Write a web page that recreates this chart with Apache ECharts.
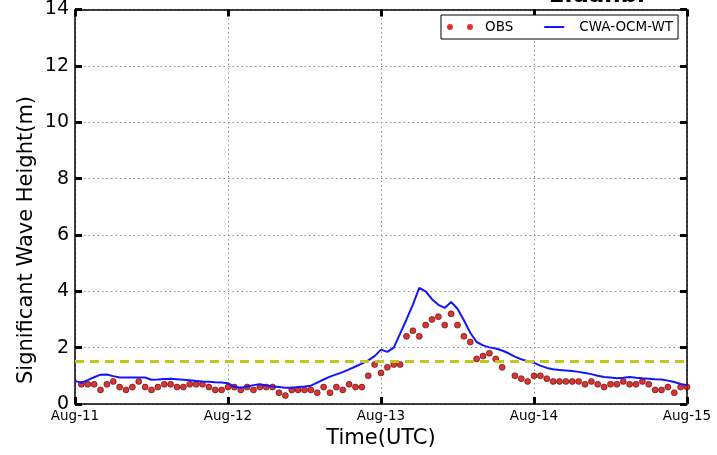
<!DOCTYPE html>
<html>
<head>
<meta charset="utf-8">
<script src="https://cdn.jsdelivr.net/npm/echarts@6/dist/echarts.min.js"></script>
<style>
  html, body { margin: 0; padding: 0; background: #fff; }
  #chart { width: 717px; height: 455px; }
</style>
</head>
<body>
<div id="chart"></div>
<script>
// Day tick labels (one tick every 24 hours)
const dayLabels = ['Aug-11', 'Aug-12', 'Aug-13', 'Aug-14', 'Aug-15'];

// Observed significant wave height (m), hourly, starting at hour 1; null = missing
const obsStartHour = 1;
const obsValues = [
  0.7, 0.7, 0.7, 0.5, 0.7, 0.8, 0.6, 0.5, 0.6, 0.8, 0.6, 0.5,
  0.6, 0.7, 0.7, 0.6, 0.6, 0.7, 0.7, 0.7, 0.6, 0.5, 0.5, 0.6,
  0.6, 0.5, 0.6, 0.5, 0.6, 0.6, 0.6, 0.4, 0.3, 0.5, 0.5, 0.5,
  0.5, 0.4, 0.6, 0.4, 0.6, 0.5, 0.7, 0.6, 0.6, 1.0, 1.4, 1.1,
  1.3, 1.4, 1.4, 2.4, 2.6, 2.4, 2.8, 3.0, 3.1, 2.8, 3.2, 2.8,
  2.4, 2.2, 1.6, 1.7, 1.8, 1.6, 1.3, null, 1.0, 0.9, 0.8, 1.0,
  1.0, 0.9, 0.8, 0.8, 0.8, 0.8, 0.8, 0.7, 0.8, 0.7, 0.6, 0.7,
  0.7, 0.8, 0.7, 0.7, 0.8, 0.7, 0.5, 0.5, 0.6, 0.4, 0.6, 0.6
];

// CWA-OCM-WT model significant wave height (m), hourly from hour 0
const modelStartHour = 0;
const modelValues = [
  0.82, 0.75, 0.85, 0.95, 1.04, 1.05, 0.99, 0.94, 0.94, 0.94, 0.94, 0.94,
  0.86, 0.87, 0.89, 0.90, 0.88, 0.86, 0.84, 0.82, 0.80, 0.79, 0.77, 0.76,
  0.74, 0.61, 0.58, 0.62, 0.67, 0.70, 0.66, 0.62, 0.60, 0.58, 0.58, 0.60,
  0.62, 0.65, 0.76, 0.87, 0.97, 1.05, 1.13, 1.23, 1.33, 1.43, 1.55, 1.70,
  1.93, 1.85, 2.00, 2.50, 3.00, 3.53, 4.12, 4.00, 3.72, 3.52, 3.41, 3.62,
  3.38, 2.97, 2.53, 2.20, 2.08, 2.01, 1.97, 1.90, 1.80, 1.68, 1.59, 1.52,
  1.46, 1.36, 1.28, 1.23, 1.21, 1.19, 1.17, 1.14, 1.10, 1.06, 1.00, 0.96,
  0.94, 0.91, 0.93, 0.96, 0.93, 0.91, 0.90, 0.88, 0.87, 0.83, 0.78, 0.71,
  0.67
];

// Warning threshold (m)
const alertLevel = 1.5;

const yMin = 0, yMax = 14, yStep = 2;
const hoursPerDay = 24;
const xMax = (dayLabels.length - 1) * hoursPerDay;
const FONT = 'DejaVu Sans';

const OBS_COLOR = '#d40000';
const MODEL_COLOR = '#1414ff';

const obsData = obsValues
  .map((v, i) => [obsStartHour + i, v])
  .filter(d => d[1] !== null);
const modelData = modelValues.map((v, i) => [modelStartHour + i, v]);

const frameLine = { show: true, onZero: false, lineStyle: { color: '#000', width: 1.5 } };
const majorTick = { show: true, inside: true, length: 7, lineStyle: { color: '#000', width: 3 } };
const dottedGrid = { show: true, lineStyle: { color: '#8c8c8c', width: 1, type: [1.5, 3] } };

// Legend glyphs: hair-thin slivers at the edges fix the icon box to 33x6
const obsIcon = 'path://M0,3a3,3 0 1,0 6,0a3,3 0 1,0 -6,0M20,3a3,3 0 1,0 6,0a3,3 0 1,0 -6,0M32.99,2.99H33V3H32.99Z';
const lineIcon = 'path://M0,0H0.01V6H0ZM3,2H23V4H3ZM32.99,0H33V6H32.99Z';

const chart = echarts.init(document.getElementById('chart'));
chart.setOption({
  animation: false,
  backgroundColor: '#fff',
  grid: { left: 75, right: 30, top: 8, bottom: 51 },
  xAxis: [
    {
      type: 'value', min: 0, max: xMax, interval: hoursPerDay,
      axisLine: frameLine, axisTick: majorTick, splitLine: dottedGrid,
      axisLabel: {
        formatter: v => dayLabels[Math.round(v / hoursPerDay)] || '',
        fontFamily: FONT, fontSize: 13.5, color: '#000', margin: 5
      },
      name: 'Time(UTC)', nameLocation: 'middle', nameGap: 24,
      nameTextStyle: { fontFamily: FONT, fontSize: 21, color: '#000' }
    },
    {
      type: 'value', position: 'top', min: 0, max: xMax, interval: hoursPerDay,
      axisLine: frameLine, axisTick: majorTick, axisLabel: { show: false },
      splitLine: { show: false }
    }
  ],
  yAxis: [
    {
      type: 'value', min: yMin, max: yMax, interval: yStep,
      axisLine: frameLine, axisTick: majorTick, splitLine: dottedGrid,
      axisLabel: { fontFamily: FONT, fontSize: 19, color: '#000', margin: 6 }
    },
    {
      type: 'value', position: 'right', min: yMin, max: yMax, interval: yStep,
      axisLine: frameLine, axisTick: majorTick, axisLabel: { show: false },
      splitLine: { show: false }
    }
  ],
  legend: {
    left: 441, top: 15,
    itemWidth: 33, itemHeight: 6, itemGap: 28,
    padding: [5, 5, 5, 6],
    borderColor: '#000', borderWidth: 1, borderRadius: 0,
    backgroundColor: '#fff',
    textStyle: { fontFamily: FONT, fontSize: 13.5, color: '#000' },
    data: [
      { name: 'OBS', icon: obsIcon, itemStyle: { color: OBS_COLOR, borderWidth: 0 } },
      { name: 'CWA-OCM-WT', icon: lineIcon, itemStyle: { color: MODEL_COLOR, borderWidth: 0 } }
    ]
  },
  series: [
    {
      name: 'OBS', type: 'scatter', data: obsData,
      symbol: 'circle', symbolSize: 6,
      itemStyle: { color: OBS_COLOR, borderColor: '#3a0000', borderWidth: 0.7 },
      z: 3
    },
    {
      name: 'CWA-OCM-WT', type: 'line', data: modelData,
      symbol: 'none', smooth: false,
      itemStyle: { color: MODEL_COLOR },
      lineStyle: { color: MODEL_COLOR, width: 2 },
      z: 4,
      markLine: {
        silent: true, symbol: 'none',
        label: { show: false },
        lineStyle: { color: '#c4c41c', width: 3, type: [9, 6] },
        data: [{ yAxis: alertLevel }]
      }
    }
  ],
  graphic: [
    {
      type: 'text', x: 27, y: 240, rotation: Math.PI / 2,
      style: {
        text: 'Significant Wave Height(m)',
        font: '21px "DejaVu Sans"', fill: '#000',
        textAlign: 'center', textVerticalAlign: 'middle'
      }
    },
    {
      type: 'text', x: 645, y: 8,
      style: {
        text: 'Eluanbi',
        font: 'bold 23px "DejaVu Sans"', fill: '#000',
        textAlign: 'right', textVerticalAlign: 'bottom'
      }
    }
  ]
});
</script>
</body>
</html>
